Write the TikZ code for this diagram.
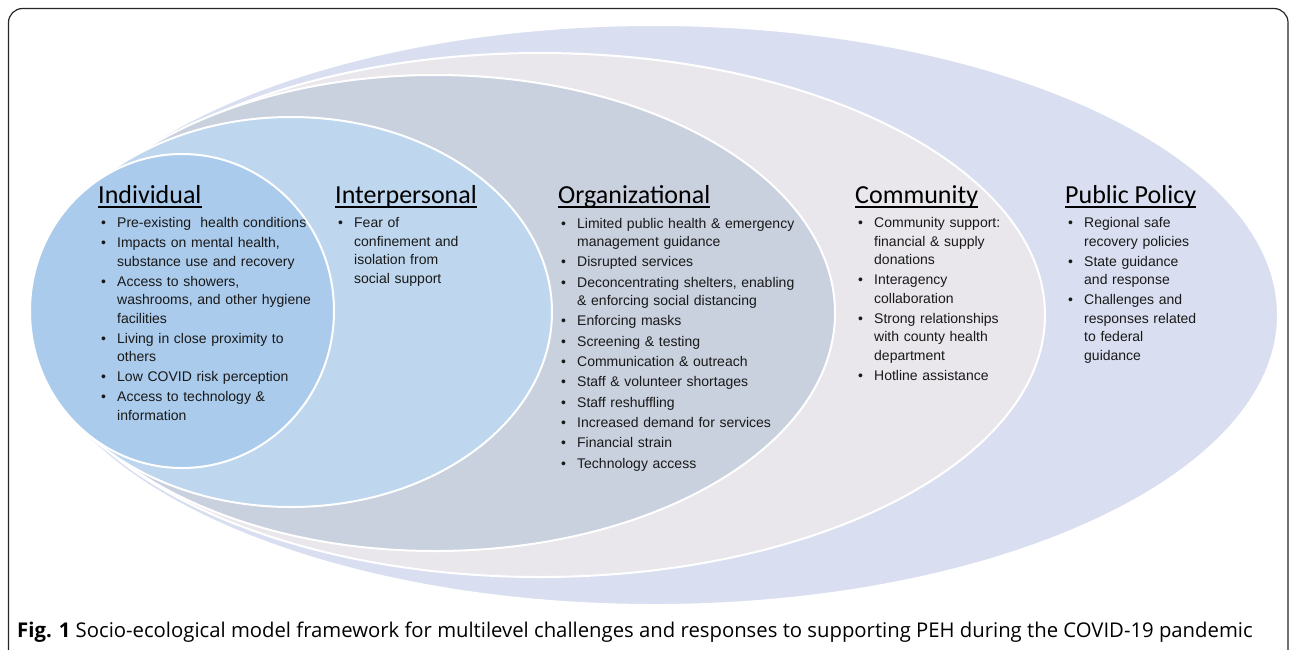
\documentclass[tikz,border=0pt]{standalone}
\usepackage{fontspec}
\setmainfont{Liberation Sans}
\newfontfamily\headfont{Carlito}
\newfontfamily\capfont{Open Sans}
\usepackage{tikz}
\usetikzlibrary{positioning}
\definecolor{d9dff0}{RGB}{217,223,240}
\definecolor{e9e7eb}{RGB}{233,231,235}
\definecolor{c9d0de}{RGB}{201,208,222}
\definecolor{bed7ee}{RGB}{190,215,238}
\definecolor{aacbec}{RGB}{170,203,236}
\newcommand{\itm}{\par\leftskip=16pt\noindent\hskip-16pt\hbox to 16pt{\textbullet\hfil}}
\tikzstyle{every node}=[inner sep=0pt]
\tikzstyle{head}=[font=\headfont\fontsize{26}{30}\selectfont,anchor=base west]
\tikzstyle{items}=[font=\fontsize{14}{18.5}\selectfont\setlength{\parskip}{1.5pt},text width=250pt,align=left,text=black!90]
\tikzstyle{ring}=[draw=white,line width=2pt]

\begin{document}
\begin{tikzpicture}[line cap=round,line join=round,x=1pt,y=-1pt]
\useasboundingbox (0,0) rectangle (1290,649);
% levels, outermost first
\filldraw[ring,fill=d9dff0] (654,315) ellipse [x radius=624,y radius=290];
\filldraw[ring,fill=e9e7eb] (540,315) ellipse [x radius=505,y radius=262];
\filldraw[ring,fill=c9d0de] (435,313) ellipse [x radius=400,y radius=238];
\filldraw[ring,fill=bed7ee] (291,312) ellipse [x radius=261,y radius=195];
\filldraw[ring,fill=aacbec] (182,311) ellipse [x radius=152,y radius=157];
% headings
\node[head] (ind) at (98,203) {Individual};
\node[head] (intp) at (335,203) {Interpersonal};
\node[head] (org) at (558,203) {Organizational};
\node[head] (comm) at (855,203) {Community};
\node[head] (pol) at (1065,203) {Public Policy};
\foreach \h in {ind,intp,org,comm,pol}
  \draw[line width=1.4pt,line cap=butt] ([yshift=-4pt]\h.base west) -- ([yshift=-4pt]\h.base east);
% bullet lists
\node[items,below right=4.5pt and 3pt of ind.base west] (indl) {%
\itm Pre-existing\ \ health conditions
\itm Impacts on mental health,\\ substance use and recovery
\itm Access to showers,\\ washrooms, and other hygiene\\ facilities
\itm Living in close proximity to\\ others
\itm Low COVID risk perception
\itm Access to technology \&\\ information\par};
\node[items,below right=4.5pt and 3pt of intp.base west] (intpl) {%
\itm Fear of\\ confinement and\\ isolation from\\ social support\par};
\node[items,below right=4.5pt and 3pt of org.base west,
  font=\fontsize{14}{18.5}\selectfont\setlength{\parskip}{1.8pt}] (orgl) {%
\itm Limited public health \& emergency\\ management guidance
\itm Disrupted services
\itm Deconcentrating shelters, enabling\\ \& enforcing social distancing
\itm Enforcing masks
\itm Screening \& testing
\itm Communication \& outreach
\itm Staff \& volunteer shortages
\itm Staff reshuffling
\itm Increased demand for services
\itm Financial strain
\itm Technology access\par};
\node[items,below right=4.5pt and 3pt of comm.base west] (comml) {%
\itm Community support:\\ financial \& supply\\ donations
\itm Interagency\\ collaboration
\itm Strong relationships\\ with county health\\ department
\itm Hotline assistance\par};
\node[items,below right=4.5pt and 3pt of pol.base west] (poll) {%
\itm Regional safe\\ recovery policies
\itm State guidance\\ and response
\itm Challenges and\\ responses related\\ to federal\\ guidance\par};
% caption and frame
\node[anchor=base west,font=\capfont\fontsize{20.3}{24}\selectfont] (cap) at (17,637)
  {\textbf{Fig. 1} Socio-ecological model framework for multilevel challenges and responses to supporting PEH during the COVID-19 pandemic};
\draw[line width=1.2pt,color=black!85,rounded corners=14pt] (8.5,670) -- (8.5,8.5) -- (1288,8.5) -- (1288,670);
\end{tikzpicture}
\end{document}
